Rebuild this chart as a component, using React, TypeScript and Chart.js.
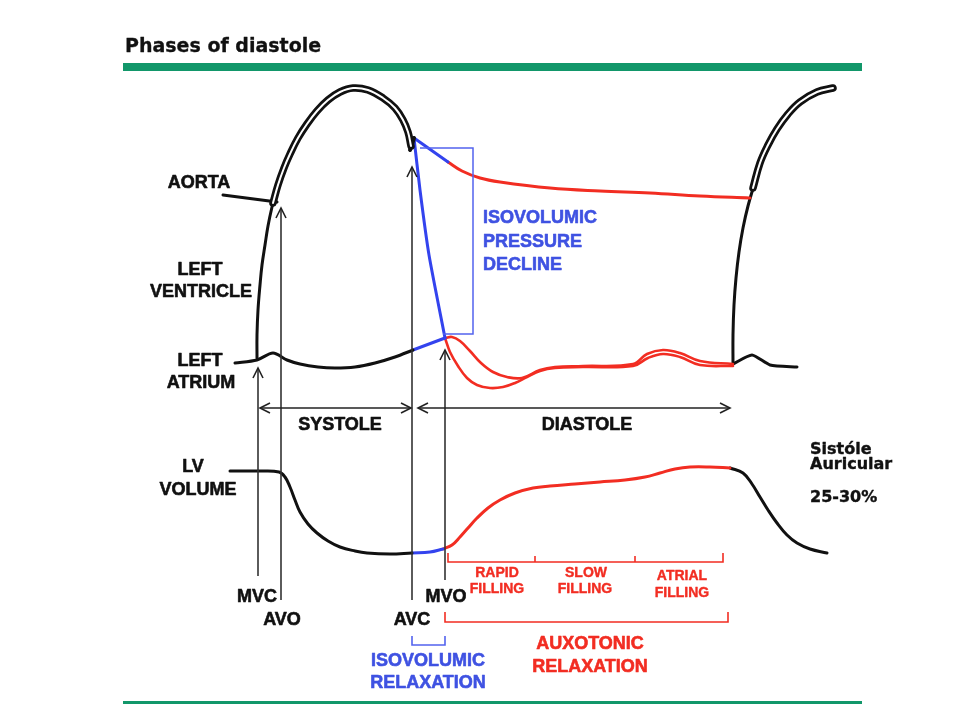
import React, { useEffect, useRef } from "react";
import { Chart, registerables } from "chart.js";

Chart.register(...registerables);

// ---- Data (time units along x, level units along y; y grows downward in this schematic) ----
const lvPressureRise = [[257, 358], [257, 335], [258, 310], [260, 285], [262, 265], [265, 245], [268, 226], [272, 207], [275, 196]];
const systolicDouble = [[273, 203], [278, 185], [284, 168], [290, 154], [298, 138], [307, 124], [317, 111], [328, 100], [340, 92], [353, 88], [368, 90], [383, 98], [395, 108], [403, 120], [408, 132], [411, 146]];
const incisura = [[410, 150], [414, 138]];
const lvPressureFallBlue = [[414, 138], [420, 190], [429, 255], [445, 338]];
const aortaDeclineBlue = [[414, 138], [431, 150], [448, 162]];
const aortaDiastoleRed = [[448, 162], [462, 171], [480, 178], [500, 182], [550, 188], [600, 191], [650, 193], [700, 196], [750, 198]];
const aortaPointer = [[223, 195], [277, 202]];
const laPressure = [[235, 363], [257, 360], [273, 353], [287, 360], [300, 364], [318, 367], [335, 368], [355, 367], [375, 363], [395, 357], [413, 350]];
const laPressureBlue = [[413, 350], [445, 338]];
const laDiastoleRed = [[445, 338], [452, 337], [460, 341], [470, 351], [481, 363], [493, 372], [507, 377], [522, 378], [540, 370], [555, 367], [583, 366], [633, 364], [647, 354], [663, 350], [680, 353], [700, 361], [733, 364]];
const lvDiastoleRed = [[445, 338], [450, 352], [458, 366], [467, 378], [477, 385], [490, 388], [503, 387], [515, 383], [527, 377], [540, 371], [555, 368], [583, 367], [633, 366], [648, 358], [663, 354], [680, 357], [700, 365], [733, 366]];
const laNextCycle = [[733, 364], [752, 355], [770, 365], [797, 367]];
const lvNextRise = [[733, 364], [733, 335], [734, 305], [736, 278], [739, 252], [743, 228], [748, 206], [755, 182]];
const nextDouble = [[753, 188], [760, 163], [768, 145], [777, 129], [788, 114], [800, 102], [817, 92], [833, 88]];
const lvVolume = [[230, 471], [260, 471], [279, 472], [285, 477], [290, 487], [295, 500], [300, 512], [308, 524], [317, 533], [328, 541], [340, 547], [355, 551], [367, 553], [390, 554], [412, 553]];
const lvVolumeBlue = [[412, 553], [430, 552], [443, 549]];
const lvVolumeRed = [[443, 549], [452, 545], [460, 537], [468, 528], [477, 518], [488, 508], [500, 500], [515, 493], [533, 488], [550, 486], [575, 484], [600, 482], [625, 480], [645, 477], [660, 473], [675, 469], [690, 467], [710, 467], [730, 468]];
const lvVolumeNext = [[730, 468], [743, 473], [752, 484], [760, 497], [768, 510], [777, 523], [787, 535], [797, 543], [810, 549], [827, 553]];

// valve events
const eventLabels = ["MVC", "AVO", "AVC", "MVO"];
const eventTimes = [258, 281, 412, 445];

const BLACK = "#111111";
const RED = "#f22d22";
const BLUE = "#3343ee";
const BLUE_TEXT = "#3f52e2";
const GREEN = "#12976a";

const toPts = (arr: number[][]) => arr.map(([x, y]) => ({ x, y }));

function line(data: number[][], color: string, width: number, order = 2, tension = 0.4) {
  return {
    data: toPts(data),
    borderColor: color,
    borderWidth: width,
    pointRadius: 0,
    fill: false,
    tension,
    order,
    borderCapStyle: "round" as const,
    borderJoinStyle: "round" as const,
  };
}

const overlay = {
  id: "overlay",
  afterDatasetsDraw(chart: any) {
    const { ctx } = chart;
    const sx = chart.scales.x;
    const sy = chart.scales.y;
    const X = (v: number) => sx.getPixelForValue(v);
    const Y = (v: number) => sy.getPixelForValue(v);
    ctx.save();

    // green rules
    ctx.fillStyle = GREEN;
    ctx.fillRect(X(123), Y(63), X(862) - X(123), Y(71) - Y(63));
    ctx.fillRect(X(123), Y(701), X(862) - X(123), Y(704) - Y(701));

    const seg = (pts: number[][], color: string, w: number) => {
      ctx.strokeStyle = color;
      ctx.lineWidth = w;
      ctx.lineCap = "butt";
      ctx.lineJoin = "miter";
      ctx.beginPath();
      pts.forEach(([a, b], i) => (i ? ctx.lineTo(X(a), Y(b)) : ctx.moveTo(X(a), Y(b))));
      ctx.stroke();
    };
    const upHead = (xv: number, yv: number) => seg([[xv - 5, yv + 10], [xv, yv], [xv + 5, yv + 10]], "#222", 1.6);
    const leftHead = (xv: number, yv: number) => seg([[xv + 10, yv - 5], [xv, yv], [xv + 10, yv + 5]], "#222", 1.6);
    const rightHead = (xv: number, yv: number) => seg([[xv - 10, yv - 5], [xv, yv], [xv - 10, yv + 5]], "#222", 1.6);

    // valve event arrows
    const tips = [368, 208, 167, 350];
    const bottoms = [576, 600, 600, 580];
    eventTimes.forEach((t, i) => {
      seg([[t, bottoms[i]], [t, tips[i]]], "#333", 1.6);
      upHead(t, tips[i]);
    });

    // systole / diastole arrows
    seg([[260, 408], [411, 408]], "#222", 1.6);
    leftHead(260, 408);
    rightHead(411, 408);
    seg([[418, 408], [730, 408]], "#222", 1.6);
    leftHead(418, 408);
    rightHead(730, 408);

    // isovolumic pressure decline box
    seg([[420, 148], [473, 148], [473, 334], [443, 334]], "#5363ee", 1.5);

    // filling brackets
    seg([[448, 553], [448, 562], [723, 562], [723, 553]], RED, 1.6);
    seg([[535, 562], [535, 556]], RED, 1.6);
    seg([[635, 562], [635, 556]], RED, 1.6);
    seg([[445, 612], [445, 622], [728, 622], [728, 612]], RED, 1.6);
    seg([[412, 636], [412, 645], [445, 645], [445, 636]], "#5363ee", 1.6);

    const text = (s: string, xv: number, yv: number, font: string, color: string, align: CanvasTextAlign = "center", heavy = 0.6) => {
      ctx.font = font;
      ctx.fillStyle = color;
      ctx.strokeStyle = color;
      ctx.lineWidth = heavy;
      ctx.lineJoin = "round";
      ctx.textAlign = align;
      ctx.textBaseline = "alphabetic";
      ctx.fillText(s, X(xv), Y(yv));
      if (heavy > 0) ctx.strokeText(s, X(xv), Y(yv));
    };
    const F18 = 'bold 18px "Liberation Sans", Arial, sans-serif';
    const F14 = 'bold 14px "Liberation Sans", Arial, sans-serif';

    text("Phases of diastole", 125, 52, 'bold 19px "DejaVu Sans", Verdana, sans-serif', BLACK, "left", 0.3);

    text("AORTA", 199, 188, F18, BLACK);
    text("LEFT", 200, 275, F18, BLACK);
    text("VENTRICLE", 201, 297, F18, BLACK);
    text("LEFT", 200, 366, F18, BLACK);
    text("ATRIUM", 201, 388, F18, BLACK);
    text("LV", 193, 472, F18, BLACK);
    text("VOLUME", 198, 495, F18, BLACK);

    text("SYSTOLE", 340, 430, F18, BLACK);
    text("DIASTOLE", 587, 430, F18, BLACK);

    const labelPos = [[257, 602], [282, 625], [412, 625], [446, 602]];
    eventLabels.forEach((s, i) => text(s, labelPos[i][0], labelPos[i][1], F18, BLACK));

    text("ISOVOLUMIC", 483, 223, F18, BLUE_TEXT, "left");
    text("PRESSURE", 483, 247, F18, BLUE_TEXT, "left");
    text("DECLINE", 483, 270, F18, BLUE_TEXT, "left");

    text("ISOVOLUMIC", 428, 666, F18, BLUE_TEXT);
    text("RELAXATION", 428, 688, F18, BLUE_TEXT);

    text("AUXOTONIC", 590, 649, F18, RED);
    text("RELAXATION", 590, 672, F18, RED);

    text("RAPID", 497, 577, F14, RED, "center", 0.4);
    text("FILLING", 497, 593, F14, RED, "center", 0.4);
    text("SLOW", 586, 577, F14, RED, "center", 0.4);
    text("FILLING", 585, 593, F14, RED, "center", 0.4);
    text("ATRIAL", 682, 580, F14, RED, "center", 0.4);
    text("FILLING", 682, 597, F14, RED, "center", 0.4);

    const FV = 'bold 16px "DejaVu Sans", Verdana, sans-serif';
    text("Sistóle", 810, 454, FV, BLACK, "left", 0.4);
    text("Auricular", 810, 469, FV, BLACK, "left", 0.4);
    text("25-30%", 810, 502, FV, BLACK, "left", 0.4);

    ctx.restore();
  },
};

export default function App() {
  const ref = useRef<HTMLCanvasElement | null>(null);
  useEffect(() => {
    document.body.style.margin = "0";
    if (!ref.current) return;
    const chart = new Chart(ref.current, {
      type: "line",
      data: {
        datasets: [
          line(systolicDouble, "#ffffff", 2, 0),
          line(nextDouble, "#ffffff", 2, 0),
          line(systolicDouble, BLACK, 7.5, 1),
          line(nextDouble, BLACK, 7.5, 1),
          line(lvPressureRise, BLACK, 3),
          line(incisura, BLACK, 4, 2, 0),
          line(lvPressureFallBlue, BLUE, 3, 2, 0.2),
          line(aortaDeclineBlue, BLUE, 3, 2, 0.2),
          line(aortaDiastoleRed, RED, 3),
          line(aortaPointer, BLACK, 3, 2, 0),
          line(laPressure, BLACK, 3, 2, 0.3),
          line(laPressureBlue, BLUE, 3, 2, 0),
          line(laDiastoleRed, RED, 2.6),
          line(lvDiastoleRed, RED, 2.6),
          line(laNextCycle, BLACK, 3, 2, 0.2),
          line(lvNextRise, BLACK, 3),
          line(lvVolume, BLACK, 3),
          line(lvVolumeBlue, BLUE, 3),
          line(lvVolumeRed, RED, 3),
          line(lvVolumeNext, BLACK, 3),
        ] as any,
      },
      options: {
        animation: false,
        responsive: false,
        events: [],
        layout: { padding: 0 },
        plugins: { legend: { display: false }, tooltip: { enabled: false } },
        scales: {
          x: { type: "linear", min: 0, max: 960, display: false },
          y: { type: "linear", min: 0, max: 720, reverse: true, display: false },
        },
      },
      plugins: [overlay],
    });
    return () => chart.destroy();
  }, []);
  return (
    <div style={{ width: 960, height: 720, background: "#fff" }}>
      <canvas ref={ref} width={960} height={720} />
    </div>
  );
}
